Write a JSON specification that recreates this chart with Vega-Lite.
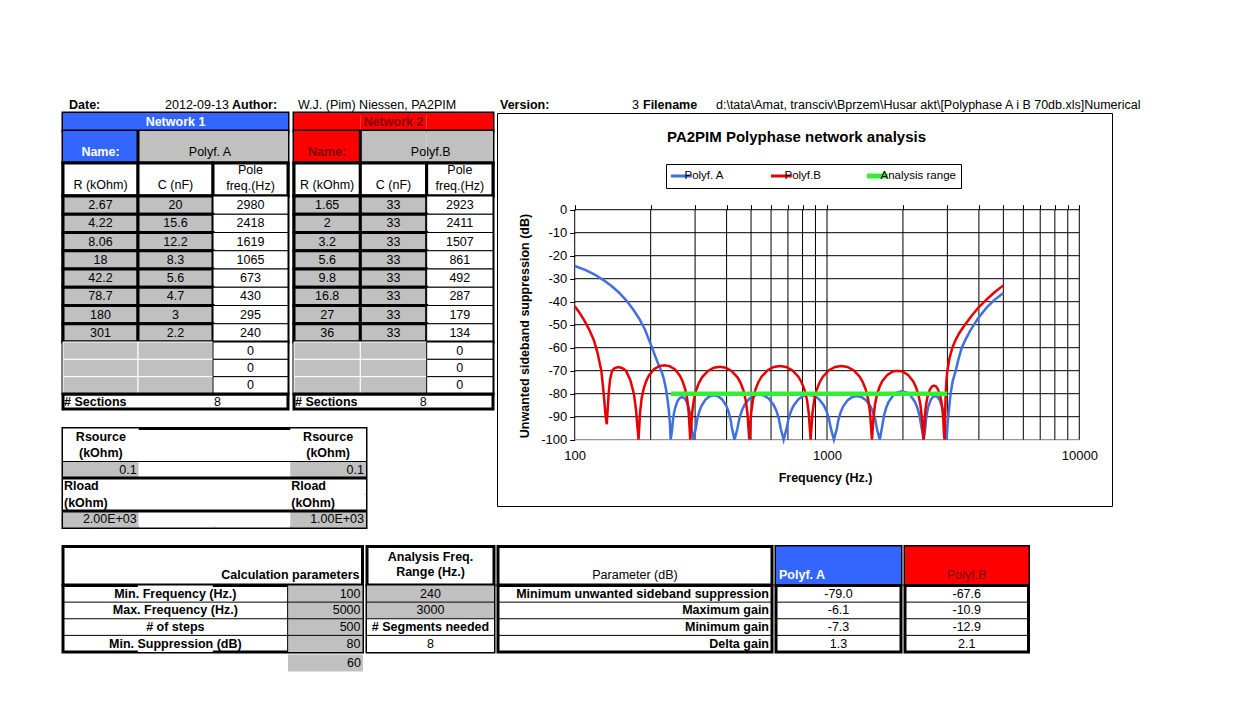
{
"$schema":"https://vega.github.io/schema/vega-lite/v6.json",
"background":"white",
"padding":{"left":60,"top":96,"right":10,"bottom":10},
"config":{"font":"Liberation Sans","view":{"stroke":null},"text":{"fontSize":12.5,"color":"#000000"},"concat":{"spacing":0}},
"datasets":{
"head":[
{"c":"A","t":"Date:"},{"c":"B","t":"2012-09-13"},{"c":"C","t":"Author:"},{"c":"D","t":"W.J. (Pim) Niessen, PA2PIM"},
{"c":"G","t":"Version:"},{"c":"H","t":"3"},{"c":"I","t":"Filename"},
{"c":"J","t":"d:\\tata\\Amat, transciv\\Bprzem\\Husar akt\\[Polyphase A i B 70db.xls]Numerical"}],
"t1":[
{"s":"net","n":1,"r":1,"c":"A","k":"n1"},{"s":"net","n":1,"r":1,"c":"B","k":"n1","t":"Network 1"},{"s":"net","n":1,"r":1,"c":"C","k":"n1"},
{"s":"net","n":2,"r":1,"c":"D","k":"n2"},{"s":"net","n":2,"r":1,"c":"E","k":"n2","t":"Network 2"},{"s":"net","n":2,"r":1,"c":"F","k":"n2"},
{"s":"name","n":1,"r":1,"c":"A","k":"n1","t":"Name:"},{"s":"name","n":1,"r":1,"c":"B","k":"gr"},{"s":"name","n":1,"r":1,"c":"C","k":"gr","t":"Polyf. A"},
{"s":"name","n":2,"r":1,"c":"D","k":"n2","t":"Name:"},{"s":"name","n":2,"r":1,"c":"E","k":"gr"},{"s":"name","n":2,"r":1,"c":"F","k":"gr","t":"Polyf.B"},
{"s":"hdr","n":1,"r":1,"c":"A","k":"hd","t":"R (kOhm)"},{"s":"hdr","n":1,"r":1,"c":"B","k":"hd","t":"C (nF)"},{"s":"hdr","n":1,"r":1,"c":"C","k":"hd","t":"Pole\nfreq.(Hz)"},
{"s":"hdr","n":2,"r":1,"c":"D","k":"hd","t":"R (kOhm)"},{"s":"hdr","n":2,"r":1,"c":"E","k":"hd","t":"C (nF)"},{"s":"hdr","n":2,"r":1,"c":"F","k":"hd","t":"Pole\nfreq.(Hz)"},
{"s":"dat","n":1,"r":1,"c":"A","k":"in","t":"2.67"},{"s":"dat","n":1,"r":1,"c":"B","k":"in","t":"20"},{"s":"dat","n":1,"r":1,"c":"C","k":"out","t":"2980"},
{"s":"dat","n":1,"r":2,"c":"A","k":"in","t":"4.22"},{"s":"dat","n":1,"r":2,"c":"B","k":"in","t":"15.6"},{"s":"dat","n":1,"r":2,"c":"C","k":"out","t":"2418"},
{"s":"dat","n":1,"r":3,"c":"A","k":"in","t":"8.06"},{"s":"dat","n":1,"r":3,"c":"B","k":"in","t":"12.2"},{"s":"dat","n":1,"r":3,"c":"C","k":"out","t":"1619"},
{"s":"dat","n":1,"r":4,"c":"A","k":"in","t":"18"},{"s":"dat","n":1,"r":4,"c":"B","k":"in","t":"8.3"},{"s":"dat","n":1,"r":4,"c":"C","k":"out","t":"1065"},
{"s":"dat","n":1,"r":5,"c":"A","k":"in","t":"42.2"},{"s":"dat","n":1,"r":5,"c":"B","k":"in","t":"5.6"},{"s":"dat","n":1,"r":5,"c":"C","k":"out","t":"673"},
{"s":"dat","n":1,"r":6,"c":"A","k":"in","t":"78.7"},{"s":"dat","n":1,"r":6,"c":"B","k":"in","t":"4.7"},{"s":"dat","n":1,"r":6,"c":"C","k":"out","t":"430"},
{"s":"dat","n":1,"r":7,"c":"A","k":"in","t":"180"},{"s":"dat","n":1,"r":7,"c":"B","k":"in","t":"3"},{"s":"dat","n":1,"r":7,"c":"C","k":"out","t":"295"},
{"s":"dat","n":1,"r":8,"c":"A","k":"in","t":"301"},{"s":"dat","n":1,"r":8,"c":"B","k":"in","t":"2.2"},{"s":"dat","n":1,"r":8,"c":"C","k":"out","t":"240"},
{"s":"dat","n":2,"r":1,"c":"D","k":"in","t":"1.65"},{"s":"dat","n":2,"r":1,"c":"E","k":"in","t":"33"},{"s":"dat","n":2,"r":1,"c":"F","k":"out","t":"2923"},
{"s":"dat","n":2,"r":2,"c":"D","k":"in","t":"2"},{"s":"dat","n":2,"r":2,"c":"E","k":"in","t":"33"},{"s":"dat","n":2,"r":2,"c":"F","k":"out","t":"2411"},
{"s":"dat","n":2,"r":3,"c":"D","k":"in","t":"3.2"},{"s":"dat","n":2,"r":3,"c":"E","k":"in","t":"33"},{"s":"dat","n":2,"r":3,"c":"F","k":"out","t":"1507"},
{"s":"dat","n":2,"r":4,"c":"D","k":"in","t":"5.6"},{"s":"dat","n":2,"r":4,"c":"E","k":"in","t":"33"},{"s":"dat","n":2,"r":4,"c":"F","k":"out","t":"861"},
{"s":"dat","n":2,"r":5,"c":"D","k":"in","t":"9.8"},{"s":"dat","n":2,"r":5,"c":"E","k":"in","t":"33"},{"s":"dat","n":2,"r":5,"c":"F","k":"out","t":"492"},
{"s":"dat","n":2,"r":6,"c":"D","k":"in","t":"16.8"},{"s":"dat","n":2,"r":6,"c":"E","k":"in","t":"33"},{"s":"dat","n":2,"r":6,"c":"F","k":"out","t":"287"},
{"s":"dat","n":2,"r":7,"c":"D","k":"in","t":"27"},{"s":"dat","n":2,"r":7,"c":"E","k":"in","t":"33"},{"s":"dat","n":2,"r":7,"c":"F","k":"out","t":"179"},
{"s":"dat","n":2,"r":8,"c":"D","k":"in","t":"36"},{"s":"dat","n":2,"r":8,"c":"E","k":"in","t":"33"},{"s":"dat","n":2,"r":8,"c":"F","k":"out","t":"134"},
{"s":"emp","n":1,"r":1,"c":"A","k":"bl"},{"s":"emp","n":1,"r":1,"c":"B","k":"bl"},{"s":"emp","n":1,"r":1,"c":"C","k":"out","t":"0"},
{"s":"emp","n":1,"r":2,"c":"A","k":"bl"},{"s":"emp","n":1,"r":2,"c":"B","k":"bl"},{"s":"emp","n":1,"r":2,"c":"C","k":"out","t":"0"},
{"s":"emp","n":1,"r":3,"c":"A","k":"bl"},{"s":"emp","n":1,"r":3,"c":"B","k":"bl"},{"s":"emp","n":1,"r":3,"c":"C","k":"out","t":"0"},
{"s":"emp","n":2,"r":1,"c":"D","k":"bl"},{"s":"emp","n":2,"r":1,"c":"E","k":"bl"},{"s":"emp","n":2,"r":1,"c":"F","k":"out","t":"0"},
{"s":"emp","n":2,"r":2,"c":"D","k":"bl"},{"s":"emp","n":2,"r":2,"c":"E","k":"bl"},{"s":"emp","n":2,"r":2,"c":"F","k":"out","t":"0"},
{"s":"emp","n":2,"r":3,"c":"D","k":"bl"},{"s":"emp","n":2,"r":3,"c":"E","k":"bl"},{"s":"emp","n":2,"r":3,"c":"F","k":"out","t":"0"},
{"s":"sec","n":1,"r":1,"c":"A","k":"wh","t":"# Sections"},{"s":"sec","n":1,"r":1,"c":"B","k":"wh","t":"8"},{"s":"sec","n":1,"r":1,"c":"C","k":"wh"},
{"s":"sec","n":2,"r":1,"c":"D","k":"wh","t":"# Sections"},{"s":"sec","n":2,"r":1,"c":"E","k":"wh","t":"8"},{"s":"sec","n":2,"r":1,"c":"F","k":"wh"}],
"rs":[
{"r":1,"c":"A","k":"wh","t":"Rsource"},{"r":1,"c":"D","k":"wh","t":"Rsource"},
{"r":2,"c":"A","k":"wh","t":"(kOhm)"},{"r":2,"c":"D","k":"wh","t":"(kOhm)"},
{"r":3,"c":"A","k":"gr","t":"0.1"},{"r":3,"c":"B","k":"wh"},{"r":3,"c":"C","k":"wh"},{"r":3,"c":"D","k":"gr","t":"0.1"},
{"r":4,"c":"A","k":"wh","t":"Rload"},{"r":4,"c":"D","k":"wh","t":"Rload"},
{"r":5,"c":"A","k":"wh","t":"(kOhm)"},{"r":5,"c":"D","k":"wh","t":"(kOhm)"},
{"r":6,"c":"A","k":"gr","t":"2.00E+03"},{"r":6,"c":"B","k":"wh"},{"r":6,"c":"C","k":"wh"},{"r":6,"c":"D","k":"gr","t":"1.00E+03"}],
"bt":[
{"s":"h","g":"LV","r":1,"c":"V","t":"Calculation parameters"},
{"s":"h","g":"An","r":1,"c":"X","t":"Analysis Freq.\nRange (Hz.)"},
{"s":"h","g":"P","r":1,"c":"X","t":"Parameter (dB)"},
{"s":"h","g":"PA","r":1,"c":"X","k":"n1","t":"Polyf. A"},
{"s":"h","g":"PB","r":1,"c":"X","k":"n2","t":"Polyf.B"},
{"s":"b","g":"LV","r":1,"c":"L2","k":"wh","t":"Min. Frequency (Hz.)"},{"s":"b","g":"LV","r":1,"c":"V","k":"gr","t":"100"},
{"s":"b","g":"LV","r":2,"c":"L2","k":"wh","t":"Max. Frequency (Hz.)"},{"s":"b","g":"LV","r":2,"c":"V","k":"gr","t":"5000"},
{"s":"b","g":"LV","r":3,"c":"L2","k":"wh","t":"# of steps"},{"s":"b","g":"LV","r":3,"c":"V","k":"gr","t":"500"},
{"s":"b","g":"LV","r":4,"c":"L2","k":"wh","t":"Min. Suppression (dB)"},{"s":"b","g":"LV","r":4,"c":"V","k":"gr","t":"80"},
{"s":"b","g":"An","r":1,"c":"X","k":"gr","t":"240"},{"s":"b","g":"An","r":2,"c":"X","k":"gr","t":"3000"},
{"s":"b","g":"An","r":3,"c":"X","k":"wh","t":"# Segments needed"},{"s":"b","g":"An","r":4,"c":"X","k":"wh","t":"8"},
{"s":"b","g":"P","r":1,"c":"X","k":"wh","t":"Minimum unwanted sideband suppression"},{"s":"b","g":"P","r":2,"c":"X","k":"wh","t":"Maximum gain"},
{"s":"b","g":"P","r":3,"c":"X","k":"wh","t":"Minimum gain"},{"s":"b","g":"P","r":4,"c":"X","k":"wh","t":"Delta gain"},
{"s":"b","g":"PA","r":1,"c":"X","k":"wh","t":"-79.0"},{"s":"b","g":"PA","r":2,"c":"X","k":"wh","t":"-6.1"},
{"s":"b","g":"PA","r":3,"c":"X","k":"wh","t":"-7.3"},{"s":"b","g":"PA","r":4,"c":"X","k":"wh","t":"1.3"},
{"s":"b","g":"PB","r":1,"c":"X","k":"wh","t":"-67.6"},{"s":"b","g":"PB","r":2,"c":"X","k":"wh","t":"-10.9"},
{"s":"b","g":"PB","r":3,"c":"X","k":"wh","t":"-12.9"},{"s":"b","g":"PB","r":4,"c":"X","k":"wh","t":"2.1"},
{"s":"x","g":"LV","r":1,"c":"V","k":"gr","t":"60"}],
"gridx":[{"f":100},{"f":200},{"f":300},{"f":400},{"f":500},{"f":600},{"f":700},{"f":800},{"f":900},{"f":1000},{"f":2000},{"f":3000},{"f":4000},{"f":5000},{"f":6000},{"f":7000},{"f":8000},{"f":9000},{"f":10000}],
"gridy":[{"v":-100},{"v":-90},{"v":-80},{"v":-70},{"v":-60},{"v":-50},{"v":-40},{"v":-30},{"v":-20},{"v":-10},{"v":0}],
"curves":[
{"series":"Polyf. A","freq":100,"db":-24.5},{"series":"Polyf. A","freq":110,"db":-26.2},{"series":"Polyf. A","freq":120,"db":-28.2},{"series":"Polyf. A","freq":130,"db":-30.6},{"series":"Polyf. A","freq":140,"db":-33.2},{"series":"Polyf. A","freq":150,"db":-36.1},{"series":"Polyf. A","freq":160,"db":-39.4},{"series":"Polyf. A","freq":170,"db":-43.2},{"series":"Polyf. A","freq":180,"db":-47.3},{"series":"Polyf. A","freq":190,"db":-52.2},{"series":"Polyf. A","freq":197,"db":-56.6},{"series":"Polyf. A","freq":205,"db":-61.5},{"series":"Polyf. A","freq":212,"db":-65.8},{"series":"Polyf. A","freq":218,"db":-69},{"series":"Polyf. A","freq":222,"db":-71},{"series":"Polyf. A","freq":226,"db":-74},{"series":"Polyf. A","freq":230,"db":-78},{"series":"Polyf. A","freq":233,"db":-82},{"series":"Polyf. A","freq":236,"db":-87},{"series":"Polyf. A","freq":238.5,"db":-93},{"series":"Polyf. A","freq":240,"db":-100},
{"series":"Polyf. A","freq":243,"db":-96},{"series":"Polyf. A","freq":245,"db":-91.7},{"series":"Polyf. A","freq":247.5,"db":-88.4},{"series":"Polyf. A","freq":250.1,"db":-86.1},{"series":"Polyf. A","freq":255.3,"db":-83.3},{"series":"Polyf. A","freq":260.7,"db":-81.9},{"series":"Polyf. A","freq":266.1,"db":-81.5},{"series":"Polyf. A","freq":271.6,"db":-81.9},{"series":"Polyf. A","freq":277.3,"db":-83.3},{"series":"Polyf. A","freq":283.1,"db":-86.1},{"series":"Polyf. A","freq":286,"db":-88.4},{"series":"Polyf. A","freq":289,"db":-91.7},{"series":"Polyf. A","freq":291.4,"db":-96},{"series":"Polyf. A","freq":295,"db":-100},
{"series":"Polyf. A","freq":301.7,"db":-95.3},{"series":"Polyf. A","freq":306.3,"db":-90.9},{"series":"Polyf. A","freq":312.2,"db":-87.6},{"series":"Polyf. A","freq":318.1,"db":-85.3},{"series":"Polyf. A","freq":330.3,"db":-82.5},{"series":"Polyf. A","freq":343,"db":-81.1},{"series":"Polyf. A","freq":356.2,"db":-80.7},{"series":"Polyf. A","freq":369.9,"db":-81.1},{"series":"Polyf. A","freq":384.1,"db":-82.5},{"series":"Polyf. A","freq":398.9,"db":-85.3},{"series":"Polyf. A","freq":406.4,"db":-87.6},{"series":"Polyf. A","freq":414.2,"db":-90.9},{"series":"Polyf. A","freq":420.5,"db":-95.3},{"series":"Polyf. A","freq":430,"db":-100},
{"series":"Polyf. A","freq":441.7,"db":-95},{"series":"Polyf. A","freq":449.7,"db":-90.6},{"series":"Polyf. A","freq":459.9,"db":-87.3},{"series":"Polyf. A","freq":470.3,"db":-85},{"series":"Polyf. A","freq":491.9,"db":-82.2},{"series":"Polyf. A","freq":514.4,"db":-80.8},{"series":"Polyf. A","freq":537.9,"db":-80.4},{"series":"Polyf. A","freq":562.6,"db":-80.8},{"series":"Polyf. A","freq":588.4,"db":-82.2},{"series":"Polyf. A","freq":615.3,"db":-85},{"series":"Polyf. A","freq":629.3,"db":-87.3},{"series":"Polyf. A","freq":643.5,"db":-90.6},{"series":"Polyf. A","freq":655.2,"db":-95},{"series":"Polyf. A","freq":673,"db":-100},
{"series":"Polyf. A","freq":691.8,"db":-95.1},{"series":"Polyf. A","freq":704.6,"db":-90.7},{"series":"Polyf. A","freq":721,"db":-87.4},{"series":"Polyf. A","freq":737.7,"db":-85.1},{"series":"Polyf. A","freq":772.3,"db":-82.3},{"series":"Polyf. A","freq":808.6,"db":-80.9},{"series":"Polyf. A","freq":846.6,"db":-80.5},{"series":"Polyf. A","freq":886.4,"db":-80.9},{"series":"Polyf. A","freq":928,"db":-82.3},{"series":"Polyf. A","freq":971.6,"db":-85.1},{"series":"Polyf. A","freq":994.1,"db":-87.4},{"series":"Polyf. A","freq":1017.2,"db":-90.7},{"series":"Polyf. A","freq":1036.1,"db":-95.1},{"series":"Polyf. A","freq":1065,"db":-100},
{"series":"Polyf. A","freq":1092.1,"db":-95.6},{"series":"Polyf. A","freq":1110.5,"db":-91.2},{"series":"Polyf. A","freq":1134.1,"db":-87.9},{"series":"Polyf. A","freq":1158.1,"db":-85.6},{"series":"Polyf. A","freq":1207.6,"db":-82.8},{"series":"Polyf. A","freq":1259.2,"db":-81.4},{"series":"Polyf. A","freq":1313.1,"db":-81},{"series":"Polyf. A","freq":1369.3,"db":-81.4},{"series":"Polyf. A","freq":1427.8,"db":-82.8},{"series":"Polyf. A","freq":1488.9,"db":-85.6},{"series":"Polyf. A","freq":1520.4,"db":-87.9},{"series":"Polyf. A","freq":1552.6,"db":-91.2},{"series":"Polyf. A","freq":1578.8,"db":-95.6},{"series":"Polyf. A","freq":1619,"db":-100},
{"series":"Polyf. A","freq":1658.4,"db":-93.6},{"series":"Polyf. A","freq":1685.3,"db":-89.2},{"series":"Polyf. A","freq":1719.4,"db":-85.9},{"series":"Polyf. A","freq":1754.2,"db":-83.6},{"series":"Polyf. A","freq":1826,"db":-80.8},{"series":"Polyf. A","freq":1900.8,"db":-79.4},{"series":"Polyf. A","freq":1978.6,"db":-79},{"series":"Polyf. A","freq":2059.6,"db":-79.4},{"series":"Polyf. A","freq":2143.8,"db":-80.8},{"series":"Polyf. A","freq":2231.6,"db":-83.6},{"series":"Polyf. A","freq":2276.8,"db":-85.9},{"series":"Polyf. A","freq":2322.9,"db":-89.2},{"series":"Polyf. A","freq":2360.5,"db":-93.6},{"series":"Polyf. A","freq":2418,"db":-100},
{"series":"Polyf. A","freq":2448.5,"db":-95.6},{"series":"Polyf. A","freq":2469.1,"db":-91.2},{"series":"Polyf. A","freq":2495,"db":-87.9},{"series":"Polyf. A","freq":2521.2,"db":-85.6},{"series":"Polyf. A","freq":2574.4,"db":-82.8},{"series":"Polyf. A","freq":2628.8,"db":-81.4},{"series":"Polyf. A","freq":2684.3,"db":-81},{"series":"Polyf. A","freq":2741,"db":-81.4},{"series":"Polyf. A","freq":2798.9,"db":-82.8},{"series":"Polyf. A","freq":2858,"db":-85.6},{"series":"Polyf. A","freq":2888,"db":-87.9},{"series":"Polyf. A","freq":2918.4,"db":-91.2},{"series":"Polyf. A","freq":2942.9,"db":-95.6},{"series":"Polyf. A","freq":2980,"db":-100},
{"series":"Polyf. A","freq":3010,"db":-92},{"series":"Polyf. A","freq":3050,"db":-86},{"series":"Polyf. A","freq":3090,"db":-80},{"series":"Polyf. A","freq":3150,"db":-74.5},{"series":"Polyf. A","freq":3236,"db":-70},{"series":"Polyf. A","freq":3320,"db":-65},{"series":"Polyf. A","freq":3420,"db":-60},{"series":"Polyf. A","freq":3535,"db":-56.6},{"series":"Polyf. A","freq":3700,"db":-52.5},{"series":"Polyf. A","freq":4000,"db":-46.7},{"series":"Polyf. A","freq":4300,"db":-42.5},{"series":"Polyf. A","freq":4600,"db":-39.3},{"series":"Polyf. A","freq":5000,"db":-36.2},
{"series":"Polyf.B","freq":100,"db":-42},{"series":"Polyf.B","freq":104,"db":-44.5},{"series":"Polyf.B","freq":109,"db":-48},{"series":"Polyf.B","freq":114,"db":-52},{"series":"Polyf.B","freq":119,"db":-56.6},{"series":"Polyf.B","freq":123,"db":-62},{"series":"Polyf.B","freq":127.5,"db":-70},{"series":"Polyf.B","freq":130.3,"db":-80},{"series":"Polyf.B","freq":132.6,"db":-90},{"series":"Polyf.B","freq":134,"db":-93.3},
{"series":"Polyf.B","freq":136.3,"db":-80},{"series":"Polyf.B","freq":138,"db":-74},{"series":"Polyf.B","freq":140.6,"db":-70},{"series":"Polyf.B","freq":144,"db":-68.9},{"series":"Polyf.B","freq":149,"db":-68.4},{"series":"Polyf.B","freq":154,"db":-68.8},{"series":"Polyf.B","freq":159.6,"db":-70},{"series":"Polyf.B","freq":166,"db":-74},{"series":"Polyf.B","freq":171.6,"db":-80},{"series":"Polyf.B","freq":175,"db":-87},{"series":"Polyf.B","freq":177.5,"db":-95},{"series":"Polyf.B","freq":179,"db":-100},
{"series":"Polyf.B","freq":181.6,"db":-88.1},{"series":"Polyf.B","freq":184.1,"db":-82.2},{"series":"Polyf.B","freq":187.7,"db":-77.8},{"series":"Polyf.B","freq":192.1,"db":-74.5},{"series":"Polyf.B","freq":196.7,"db":-72.2},{"series":"Polyf.B","freq":206.2,"db":-69.4},{"series":"Polyf.B","freq":216.2,"db":-68},{"series":"Polyf.B","freq":226.7,"db":-67.6},{"series":"Polyf.B","freq":237.6,"db":-68},{"series":"Polyf.B","freq":249.1,"db":-69.4},{"series":"Polyf.B","freq":261.1,"db":-72.2},{"series":"Polyf.B","freq":267.4,"db":-74.5},{"series":"Polyf.B","freq":273.8,"db":-77.8},{"series":"Polyf.B","freq":279,"db":-82.2},{"series":"Polyf.B","freq":283,"db":-88.1},{"series":"Polyf.B","freq":287,"db":-100},
{"series":"Polyf.B","freq":291.7,"db":-88.8},{"series":"Polyf.B","freq":296.4,"db":-82.9},{"series":"Polyf.B","freq":302.9,"db":-78.5},{"series":"Polyf.B","freq":311.2,"db":-75.2},{"series":"Polyf.B","freq":319.7,"db":-72.9},{"series":"Polyf.B","freq":337.4,"db":-70.1},{"series":"Polyf.B","freq":356.1,"db":-68.7},{"series":"Polyf.B","freq":375.8,"db":-68.3},{"series":"Polyf.B","freq":396.6,"db":-68.7},{"series":"Polyf.B","freq":418.5,"db":-70.1},{"series":"Polyf.B","freq":441.7,"db":-72.9},{"series":"Polyf.B","freq":453.8,"db":-75.2},{"series":"Polyf.B","freq":466.2,"db":-78.5},{"series":"Polyf.B","freq":476.4,"db":-82.9},{"series":"Polyf.B","freq":484.1,"db":-88.8},{"series":"Polyf.B","freq":492,"db":-100},
{"series":"Polyf.B","freq":500.3,"db":-88.5},{"series":"Polyf.B","freq":508.8,"db":-82.6},{"series":"Polyf.B","freq":520.3,"db":-78.2},{"series":"Polyf.B","freq":535.1,"db":-74.9},{"series":"Polyf.B","freq":550.3,"db":-72.6},{"series":"Polyf.B","freq":581.9,"db":-69.8},{"series":"Polyf.B","freq":615.4,"db":-68.4},{"series":"Polyf.B","freq":650.9,"db":-68},{"series":"Polyf.B","freq":688.3,"db":-68.4},{"series":"Polyf.B","freq":727.9,"db":-69.8},{"series":"Polyf.B","freq":769.8,"db":-72.6},{"series":"Polyf.B","freq":791.7,"db":-74.9},{"series":"Polyf.B","freq":814.1,"db":-78.2},{"series":"Polyf.B","freq":832.6,"db":-82.6},{"series":"Polyf.B","freq":846.7,"db":-88.5},{"series":"Polyf.B","freq":861,"db":-100},
{"series":"Polyf.B","freq":875.6,"db":-88.5},{"series":"Polyf.B","freq":890.4,"db":-82.6},{"series":"Polyf.B","freq":910.6,"db":-78.2},{"series":"Polyf.B","freq":936.4,"db":-74.9},{"series":"Polyf.B","freq":963,"db":-72.6},{"series":"Polyf.B","freq":1018.4,"db":-69.8},{"series":"Polyf.B","freq":1077,"db":-68.4},{"series":"Polyf.B","freq":1139,"db":-68},{"series":"Polyf.B","freq":1204.5,"db":-68.4},{"series":"Polyf.B","freq":1273.9,"db":-69.8},{"series":"Polyf.B","freq":1347.2,"db":-72.6},{"series":"Polyf.B","freq":1385.4,"db":-74.9},{"series":"Polyf.B","freq":1424.7,"db":-78.2},{"series":"Polyf.B","freq":1457,"db":-82.6},{"series":"Polyf.B","freq":1481.7,"db":-88.5},{"series":"Polyf.B","freq":1507,"db":-100},
{"series":"Polyf.B","freq":1528.4,"db":-90.5},{"series":"Polyf.B","freq":1550.1,"db":-84.6},{"series":"Polyf.B","freq":1579.5,"db":-80.2},{"series":"Polyf.B","freq":1617.1,"db":-76.9},{"series":"Polyf.B","freq":1655.5,"db":-74.6},{"series":"Polyf.B","freq":1735.2,"db":-71.8},{"series":"Polyf.B","freq":1818.7,"db":-70.4},{"series":"Polyf.B","freq":1906.2,"db":-70},{"series":"Polyf.B","freq":1997.9,"db":-70.4},{"series":"Polyf.B","freq":2094,"db":-71.8},{"series":"Polyf.B","freq":2194.7,"db":-74.6},{"series":"Polyf.B","freq":2246.9,"db":-76.9},{"series":"Polyf.B","freq":2300.3,"db":-80.2},{"series":"Polyf.B","freq":2344,"db":-84.6},{"series":"Polyf.B","freq":2377.2,"db":-90.5},{"series":"Polyf.B","freq":2411,"db":-100},
{"series":"Polyf.B","freq":2425,"db":-97},{"series":"Polyf.B","freq":2439,"db":-91.1},{"series":"Polyf.B","freq":2457.9,"db":-86.7},{"series":"Polyf.B","freq":2481.7,"db":-83.4},{"series":"Polyf.B","freq":2505.7,"db":-81.1},{"series":"Polyf.B","freq":2554.4,"db":-78.3},{"series":"Polyf.B","freq":2604,"db":-76.9},{"series":"Polyf.B","freq":2654.7,"db":-76.5},{"series":"Polyf.B","freq":2706.3,"db":-76.9},{"series":"Polyf.B","freq":2758.9,"db":-78.3},{"series":"Polyf.B","freq":2812.6,"db":-81.1},{"series":"Polyf.B","freq":2839.8,"db":-83.4},{"series":"Polyf.B","freq":2867.2,"db":-86.7},{"series":"Polyf.B","freq":2889.4,"db":-91.1},{"series":"Polyf.B","freq":2906.1,"db":-97},{"series":"Polyf.B","freq":2923,"db":-100},
{"series":"Polyf.B","freq":2940,"db":-88},{"series":"Polyf.B","freq":2955,"db":-80},{"series":"Polyf.B","freq":2975,"db":-74},{"series":"Polyf.B","freq":3000,"db":-70},{"series":"Polyf.B","freq":3060,"db":-64.5},{"series":"Polyf.B","freq":3140,"db":-60},{"series":"Polyf.B","freq":3236,"db":-56.6},{"series":"Polyf.B","freq":3350,"db":-53.5},{"series":"Polyf.B","freq":3500,"db":-50.5},{"series":"Polyf.B","freq":3750,"db":-46},{"series":"Polyf.B","freq":4000,"db":-42.3},{"series":"Polyf.B","freq":4300,"db":-39},{"series":"Polyf.B","freq":4600,"db":-36},{"series":"Polyf.B","freq":5000,"db":-32.9},
{"series":"Analysis range","freq":240,"db":-80},{"series":"Analysis range","freq":3000,"db":-80}]
},
"spacing":-2.5,
"vconcat":[
{"bounds":"flush","spacing":0,"hconcat":[
 {"width":80,"height":17,"data":{"name":"head"},"transform":[{"filter":"datum.c=='A'"}],"mark":{"type":"text","align":"left","dx":6,"fontWeight":"bold"},"encoding":{"x":{"field":"c","type":"nominal","axis":null,"bandPosition":0,"scale":{"type":"band","paddingInner":0,"paddingOuter":0}},"text":{"field":"t"}}},
 {"width":87,"height":17,"data":{"name":"head"},"transform":[{"filter":"datum.c=='B'"}],"mark":{"type":"text","align":"right","dx":-1},"encoding":{"x":{"field":"c","type":"nominal","axis":null,"bandPosition":1,"scale":{"type":"band","paddingInner":0,"paddingOuter":0}},"text":{"field":"t"}}},
 {"width":65,"height":17,"data":{"name":"head"},"transform":[{"filter":"datum.c=='C'"}],"mark":{"type":"text","align":"left","dx":2,"fontWeight":"bold"},"encoding":{"x":{"field":"c","type":"nominal","axis":null,"bandPosition":0,"scale":{"type":"band","paddingInner":0,"paddingOuter":0}},"text":{"field":"t"}}},
 {"width":201,"height":17,"data":{"name":"head"},"transform":[{"filter":"datum.c=='D'"}],"mark":{"type":"text","align":"left","dx":3},"encoding":{"x":{"field":"c","type":"nominal","axis":null,"bandPosition":0,"scale":{"type":"band","paddingInner":0,"paddingOuter":0}},"text":{"field":"t"}}},
 {"width":144,"height":17,"data":{"name":"head"},"layer":[
   {"transform":[{"filter":"datum.c=='G'"}],"mark":{"type":"text","align":"left","dx":4,"fontWeight":"bold"},"encoding":{"x":{"field":"c","type":"nominal","axis":null,"bandPosition":0,"scale":{"type":"band","domain":["G","H"],"paddingInner":0,"paddingOuter":0}},"text":{"field":"t"}}},
   {"transform":[{"filter":"datum.c=='H'"}],"mark":{"type":"text","align":"right","dx":-1},"encoding":{"x":{"field":"c","type":"nominal","axis":null,"bandPosition":1,"scale":{"type":"band","domain":["G","H"],"paddingInner":0,"paddingOuter":0}},"text":{"field":"t"}}}]},
 {"width":74,"height":17,"data":{"name":"head"},"transform":[{"filter":"datum.c=='I'"}],"mark":{"type":"text","align":"left","dx":3,"fontWeight":"bold"},"encoding":{"x":{"field":"c","type":"nominal","axis":null,"bandPosition":0,"scale":{"type":"band","paddingInner":0,"paddingOuter":0}},"text":{"field":"t"}}},
 {"width":430,"height":17,"data":{"name":"head"},"transform":[{"filter":"datum.c=='J'"}],"mark":{"type":"text","align":"left","dx":2},"encoding":{"x":{"field":"c","type":"nominal","axis":null,"bandPosition":0,"scale":{"type":"band","paddingInner":0,"paddingOuter":0}},"text":{"field":"t"}}}
]},
{"spacing":15.5,"vconcat":[
 {"spacing":0,"resolve":{"scale":{"color":"independent"},"legend":{"color":"independent"}},"hconcat":[
  {"spacing":15.5,"vconcat":[
   {"spacing":0,"hconcat":[
    {"bounds":"flush","spacing":0,"vconcat":[
     {"width":225,"height":18,"view":{"stroke":"black","strokeWidth":3},"data":{"name":"t1"},"transform":[{"filter":"datum.n==1 && datum.s=='net'"}],"layer":[
       {"mark":"rect","encoding":{"x":{"field":"c","type":"nominal","axis":null,"scale":{"type":"band","domain":["A","B","C"],"paddingInner":0,"paddingOuter":0}},"y":{"field":"r","type":"ordinal","axis":null,"scale":{"type":"band","paddingInner":0,"paddingOuter":0}},"fill":{"field":"k","type":"nominal","legend":null,"scale":{"domain":["n1","n2","gr","in","bl","out","hd","wh"],"range":["#3366FF","#FF0000","#C0C0C0","#C0C0C0","#C0C0C0","#FFFFFF","#FFFFFF","#FFFFFF"]}}}},
       {"transform":[{"filter":"isValid(datum.t)"}],"mark":{"type":"text","fontWeight":"bold"},"encoding":{"x":{"field":"c","type":"nominal","axis":null,"scale":{"type":"band","domain":["A","B","C"],"paddingInner":0,"paddingOuter":0}},"y":{"field":"r","type":"ordinal","axis":null,"scale":{"type":"band","paddingInner":0,"paddingOuter":0}},"text":{"field":"t"},"color":{"condition":[{"test":"datum.k=='n1'","value":"#FFFFFF"},{"test":"datum.k=='n2'","value":"#800000"}],"value":"#000000"}}}]},
     {"width":225,"height":32,"view":{"stroke":"black","strokeWidth":3},"data":{"name":"t1"},"transform":[{"filter":"datum.n==1 && datum.s=='name'"}],"layer":[
       {"mark":"rect","encoding":{"x":{"field":"c","type":"nominal","axis":null,"scale":{"type":"band","domain":["A","B","C"],"paddingInner":0,"paddingOuter":0}},"y":{"field":"r","type":"ordinal","axis":null,"scale":{"type":"band","paddingInner":0,"paddingOuter":0}},"fill":{"field":"k","type":"nominal","legend":null,"scale":{"domain":["n1","n2","gr","in","bl","out","hd","wh"],"range":["#3366FF","#FF0000","#C0C0C0","#C0C0C0","#C0C0C0","#FFFFFF","#FFFFFF","#FFFFFF"]}}}},
       {"transform":[{"filter":"datum.c=='B'"}],"mark":{"type":"rule","color":"black","strokeWidth":3},"encoding":{"x":{"field":"c","type":"nominal","axis":null,"bandPosition":0,"scale":{"type":"band","domain":["A","B","C"],"paddingInner":0,"paddingOuter":0}}}},
       {"transform":[{"filter":"datum.c=='A'"}],"mark":{"type":"text","fontWeight":"bold","baseline":"bottom","dy":-4},"encoding":{"x":{"field":"c","type":"nominal","axis":null,"scale":{"type":"band","domain":["A","B","C"],"paddingInner":0,"paddingOuter":0}},"y":{"field":"r","type":"ordinal","axis":null,"bandPosition":1,"scale":{"type":"band","paddingInner":0,"paddingOuter":0}},"text":{"field":"t"},"color":{"condition":[{"test":"datum.k=='n1'","value":"#FFFFFF"},{"test":"datum.k=='n2'","value":"#800000"}],"value":"#000000"}}},
       {"transform":[{"filter":"datum.c=='C'"}],"mark":{"type":"text","baseline":"bottom","dy":-4,"dx":-3},"encoding":{"x":{"field":"c","type":"nominal","axis":null,"bandPosition":0,"scale":{"type":"band","domain":["A","B","C"],"paddingInner":0,"paddingOuter":0}},"y":{"field":"r","type":"ordinal","axis":null,"bandPosition":1,"scale":{"type":"band","paddingInner":0,"paddingOuter":0}},"text":{"field":"t"}}}]},
     {"width":225,"height":33,"view":{"stroke":"black","strokeWidth":3},"data":{"name":"t1"},"transform":[{"filter":"datum.n==1 && datum.s=='hdr'"}],"layer":[
       {"mark":"rect","encoding":{"x":{"field":"c","type":"nominal","axis":null,"scale":{"type":"band","domain":["A","B","C"],"paddingInner":0,"paddingOuter":0}},"y":{"field":"r","type":"ordinal","axis":null,"scale":{"type":"band","paddingInner":0,"paddingOuter":0}},"fill":{"value":"#FFFFFF"},"stroke":{"value":"black"},"strokeWidth":{"value":3}}},
       {"transform":[{"filter":"datum.c!='C'"}],"mark":{"type":"text","baseline":"bottom","dy":-4},"encoding":{"x":{"field":"c","type":"nominal","axis":null,"scale":{"type":"band","domain":["A","B","C"],"paddingInner":0,"paddingOuter":0}},"y":{"field":"r","type":"ordinal","axis":null,"bandPosition":1,"scale":{"type":"band","paddingInner":0,"paddingOuter":0}},"text":{"field":"t"}}},
       {"transform":[{"filter":"datum.c=='C'"}],"mark":{"type":"text","baseline":"top","dy":1,"lineBreak":"\n","lineHeight":16},"encoding":{"x":{"field":"c","type":"nominal","axis":null,"scale":{"type":"band","domain":["A","B","C"],"paddingInner":0,"paddingOuter":0}},"y":{"field":"r","type":"ordinal","axis":null,"bandPosition":0,"scale":{"type":"band","paddingInner":0,"paddingOuter":0}},"text":{"field":"t"}}}]},
     {"width":225,"height":146,"view":{"stroke":"black","strokeWidth":3},"data":{"name":"t1"},"transform":[{"filter":"datum.n==1 && datum.s=='dat'"}],"layer":[
       {"mark":"rect","encoding":{"x":{"field":"c","type":"nominal","axis":null,"scale":{"type":"band","domain":["A","B","C"],"paddingInner":0,"paddingOuter":0}},"y":{"field":"r","type":"ordinal","axis":null,"scale":{"type":"band","paddingInner":0,"paddingOuter":0}},"fill":{"field":"k","type":"nominal","legend":null,"scale":{"domain":["n1","n2","gr","in","bl","out","hd","wh"],"range":["#3366FF","#FF0000","#C0C0C0","#C0C0C0","#C0C0C0","#FFFFFF","#FFFFFF","#FFFFFF"]}},"stroke":{"value":"black"},"strokeWidth":{"condition":{"test":"datum.k=='in'","value":3},"value":1}}},
       {"mark":{"type":"text"},"encoding":{"x":{"field":"c","type":"nominal","axis":null,"scale":{"type":"band","domain":["A","B","C"],"paddingInner":0,"paddingOuter":0}},"y":{"field":"r","type":"ordinal","axis":null,"scale":{"type":"band","paddingInner":0,"paddingOuter":0}},"text":{"field":"t"}}}]},
     {"width":225,"height":52,"view":{"stroke":"black","strokeWidth":3},"data":{"name":"t1"},"transform":[{"filter":"datum.n==1 && datum.s=='emp'"}],"layer":[
       {"mark":"rect","encoding":{"x":{"field":"c","type":"nominal","axis":null,"scale":{"type":"band","domain":["A","B","C"],"paddingInner":0,"paddingOuter":0}},"y":{"field":"r","type":"ordinal","axis":null,"scale":{"type":"band","paddingInner":0,"paddingOuter":0}},"fill":{"field":"k","type":"nominal","legend":null,"scale":{"domain":["n1","n2","gr","in","bl","out","hd","wh"],"range":["#3366FF","#FF0000","#C0C0C0","#C0C0C0","#C0C0C0","#FFFFFF","#FFFFFF","#FFFFFF"]}},"stroke":{"condition":{"test":"datum.k=='bl'","value":"#FFFFFF"},"value":"black"},"strokeWidth":{"value":1}}},
       {"transform":[{"filter":"isValid(datum.t)"}],"mark":{"type":"text"},"encoding":{"x":{"field":"c","type":"nominal","axis":null,"scale":{"type":"band","domain":["A","B","C"],"paddingInner":0,"paddingOuter":0}},"y":{"field":"r","type":"ordinal","axis":null,"scale":{"type":"band","paddingInner":0,"paddingOuter":0}},"text":{"field":"t"}}}]},
     {"width":225,"height":15,"view":{"stroke":"black","strokeWidth":3},"data":{"name":"t1"},"transform":[{"filter":"datum.n==1 && datum.s=='sec'"}],"layer":[
       {"transform":[{"filter":"datum.c=='A'"}],"mark":{"type":"text","fontWeight":"bold","align":"left","dx":1},"encoding":{"x":{"field":"c","type":"nominal","axis":null,"bandPosition":0,"scale":{"type":"band","domain":["A","B","C"],"paddingInner":0,"paddingOuter":0}},"y":{"field":"r","type":"ordinal","axis":null,"scale":{"type":"band","paddingInner":0,"paddingOuter":0}},"text":{"field":"t"}}},
       {"transform":[{"filter":"datum.c=='B'"}],"mark":{"type":"text","align":"right","dx":8},"encoding":{"x":{"field":"c","type":"nominal","axis":null,"bandPosition":1,"scale":{"type":"band","domain":["A","B","C"],"paddingInner":0,"paddingOuter":0}},"y":{"field":"r","type":"ordinal","axis":null,"scale":{"type":"band","paddingInner":0,"paddingOuter":0}},"text":{"field":"t"}}}]}
    ]},
    {"bounds":"flush","spacing":0,"vconcat":[
     {"width":199,"height":18,"view":{"stroke":"black","strokeWidth":3},"data":{"name":"t1"},"transform":[{"filter":"datum.n==2 && datum.s=='net'"}],"layer":[
       {"mark":"rect","encoding":{"x":{"field":"c","type":"nominal","axis":null,"scale":{"type":"band","domain":["D","E","F"],"paddingInner":0,"paddingOuter":0}},"y":{"field":"r","type":"ordinal","axis":null,"scale":{"type":"band","paddingInner":0,"paddingOuter":0}},"fill":{"field":"k","type":"nominal","legend":null,"scale":{"domain":["n1","n2","gr","in","bl","out","hd","wh"],"range":["#3366FF","#FF0000","#C0C0C0","#C0C0C0","#C0C0C0","#FFFFFF","#FFFFFF","#FFFFFF"]}}}},
       {"transform":[{"filter":"isValid(datum.t)"}],"mark":{"type":"text","fontWeight":"bold"},"encoding":{"x":{"field":"c","type":"nominal","axis":null,"scale":{"type":"band","domain":["D","E","F"],"paddingInner":0,"paddingOuter":0}},"y":{"field":"r","type":"ordinal","axis":null,"scale":{"type":"band","paddingInner":0,"paddingOuter":0}},"text":{"field":"t"},"color":{"condition":[{"test":"datum.k=='n1'","value":"#FFFFFF"},{"test":"datum.k=='n2'","value":"#800000"}],"value":"#000000"}}}]},
     {"width":199,"height":32,"view":{"stroke":"black","strokeWidth":3},"data":{"name":"t1"},"transform":[{"filter":"datum.n==2 && datum.s=='name'"}],"layer":[
       {"mark":"rect","encoding":{"x":{"field":"c","type":"nominal","axis":null,"scale":{"type":"band","domain":["D","E","F"],"paddingInner":0,"paddingOuter":0}},"y":{"field":"r","type":"ordinal","axis":null,"scale":{"type":"band","paddingInner":0,"paddingOuter":0}},"fill":{"field":"k","type":"nominal","legend":null,"scale":{"domain":["n1","n2","gr","in","bl","out","hd","wh"],"range":["#3366FF","#FF0000","#C0C0C0","#C0C0C0","#C0C0C0","#FFFFFF","#FFFFFF","#FFFFFF"]}}}},
       {"transform":[{"filter":"datum.c=='E'"}],"mark":{"type":"rule","color":"black","strokeWidth":3},"encoding":{"x":{"field":"c","type":"nominal","axis":null,"bandPosition":0,"scale":{"type":"band","domain":["D","E","F"],"paddingInner":0,"paddingOuter":0}}}},
       {"transform":[{"filter":"datum.c=='D'"}],"mark":{"type":"text","fontWeight":"bold","baseline":"bottom","dy":-4},"encoding":{"x":{"field":"c","type":"nominal","axis":null,"scale":{"type":"band","domain":["D","E","F"],"paddingInner":0,"paddingOuter":0}},"y":{"field":"r","type":"ordinal","axis":null,"bandPosition":1,"scale":{"type":"band","paddingInner":0,"paddingOuter":0}},"text":{"field":"t"},"color":{"condition":[{"test":"datum.k=='n1'","value":"#FFFFFF"},{"test":"datum.k=='n2'","value":"#800000"}],"value":"#000000"}}},
       {"transform":[{"filter":"datum.c=='F'"}],"mark":{"type":"text","baseline":"bottom","dy":-4,"dx":4},"encoding":{"x":{"field":"c","type":"nominal","axis":null,"bandPosition":0,"scale":{"type":"band","domain":["D","E","F"],"paddingInner":0,"paddingOuter":0}},"y":{"field":"r","type":"ordinal","axis":null,"bandPosition":1,"scale":{"type":"band","paddingInner":0,"paddingOuter":0}},"text":{"field":"t"}}}]},
     {"width":199,"height":33,"view":{"stroke":"black","strokeWidth":3},"data":{"name":"t1"},"transform":[{"filter":"datum.n==2 && datum.s=='hdr'"}],"layer":[
       {"mark":"rect","encoding":{"x":{"field":"c","type":"nominal","axis":null,"scale":{"type":"band","domain":["D","E","F"],"paddingInner":0,"paddingOuter":0}},"y":{"field":"r","type":"ordinal","axis":null,"scale":{"type":"band","paddingInner":0,"paddingOuter":0}},"fill":{"value":"#FFFFFF"},"stroke":{"value":"black"},"strokeWidth":{"value":3}}},
       {"transform":[{"filter":"datum.c!='F'"}],"mark":{"type":"text","baseline":"bottom","dy":-4},"encoding":{"x":{"field":"c","type":"nominal","axis":null,"scale":{"type":"band","domain":["D","E","F"],"paddingInner":0,"paddingOuter":0}},"y":{"field":"r","type":"ordinal","axis":null,"bandPosition":1,"scale":{"type":"band","paddingInner":0,"paddingOuter":0}},"text":{"field":"t"}}},
       {"transform":[{"filter":"datum.c=='F'"}],"mark":{"type":"text","baseline":"top","dy":1,"lineBreak":"\n","lineHeight":16},"encoding":{"x":{"field":"c","type":"nominal","axis":null,"scale":{"type":"band","domain":["D","E","F"],"paddingInner":0,"paddingOuter":0}},"y":{"field":"r","type":"ordinal","axis":null,"bandPosition":0,"scale":{"type":"band","paddingInner":0,"paddingOuter":0}},"text":{"field":"t"}}}]},
     {"width":199,"height":146,"view":{"stroke":"black","strokeWidth":3},"data":{"name":"t1"},"transform":[{"filter":"datum.n==2 && datum.s=='dat'"}],"layer":[
       {"mark":"rect","encoding":{"x":{"field":"c","type":"nominal","axis":null,"scale":{"type":"band","domain":["D","E","F"],"paddingInner":0,"paddingOuter":0}},"y":{"field":"r","type":"ordinal","axis":null,"scale":{"type":"band","paddingInner":0,"paddingOuter":0}},"fill":{"field":"k","type":"nominal","legend":null,"scale":{"domain":["n1","n2","gr","in","bl","out","hd","wh"],"range":["#3366FF","#FF0000","#C0C0C0","#C0C0C0","#C0C0C0","#FFFFFF","#FFFFFF","#FFFFFF"]}},"stroke":{"value":"black"},"strokeWidth":{"condition":{"test":"datum.k=='in'","value":3},"value":1}}},
       {"mark":{"type":"text"},"encoding":{"x":{"field":"c","type":"nominal","axis":null,"scale":{"type":"band","domain":["D","E","F"],"paddingInner":0,"paddingOuter":0}},"y":{"field":"r","type":"ordinal","axis":null,"scale":{"type":"band","paddingInner":0,"paddingOuter":0}},"text":{"field":"t"}}}]},
     {"width":199,"height":52,"view":{"stroke":"black","strokeWidth":3},"data":{"name":"t1"},"transform":[{"filter":"datum.n==2 && datum.s=='emp'"}],"layer":[
       {"mark":"rect","encoding":{"x":{"field":"c","type":"nominal","axis":null,"scale":{"type":"band","domain":["D","E","F"],"paddingInner":0,"paddingOuter":0}},"y":{"field":"r","type":"ordinal","axis":null,"scale":{"type":"band","paddingInner":0,"paddingOuter":0}},"fill":{"field":"k","type":"nominal","legend":null,"scale":{"domain":["n1","n2","gr","in","bl","out","hd","wh"],"range":["#3366FF","#FF0000","#C0C0C0","#C0C0C0","#C0C0C0","#FFFFFF","#FFFFFF","#FFFFFF"]}},"stroke":{"condition":{"test":"datum.k=='bl'","value":"#FFFFFF"},"value":"black"},"strokeWidth":{"value":1}}},
       {"transform":[{"filter":"isValid(datum.t)"}],"mark":{"type":"text"},"encoding":{"x":{"field":"c","type":"nominal","axis":null,"scale":{"type":"band","domain":["D","E","F"],"paddingInner":0,"paddingOuter":0}},"y":{"field":"r","type":"ordinal","axis":null,"scale":{"type":"band","paddingInner":0,"paddingOuter":0}},"text":{"field":"t"}}}]},
     {"width":199,"height":15,"view":{"stroke":"black","strokeWidth":3},"data":{"name":"t1"},"transform":[{"filter":"datum.n==2 && datum.s=='sec'"}],"layer":[
       {"transform":[{"filter":"datum.c=='D'"}],"mark":{"type":"text","fontWeight":"bold","align":"left","dx":1},"encoding":{"x":{"field":"c","type":"nominal","axis":null,"bandPosition":0,"scale":{"type":"band","domain":["D","E","F"],"paddingInner":0,"paddingOuter":0}},"y":{"field":"r","type":"ordinal","axis":null,"scale":{"type":"band","paddingInner":0,"paddingOuter":0}},"text":{"field":"t"}}},
       {"transform":[{"filter":"datum.c=='E'"}],"mark":{"type":"text","align":"right","dx":0},"encoding":{"x":{"field":"c","type":"nominal","axis":null,"bandPosition":1,"scale":{"type":"band","domain":["D","E","F"],"paddingInner":0,"paddingOuter":0}},"y":{"field":"r","type":"ordinal","axis":null,"scale":{"type":"band","paddingInner":0,"paddingOuter":0}},"text":{"field":"t"}}}]}
    ]}
   ]},
   {"width":303,"height":99,"view":{"stroke":"black","strokeWidth":3},"data":{"name":"rs"},"layer":[
     {"mark":"rect","encoding":{"x":{"field":"c","type":"nominal","axis":null,"scale":{"type":"band","domain":["A","B","C","D"],"paddingInner":0,"paddingOuter":0}},"y":{"field":"r","type":"ordinal","axis":null,"scale":{"type":"band","paddingInner":0,"paddingOuter":0}},"fill":{"field":"k","type":"nominal","legend":null,"scale":{"domain":["n1","n2","gr","in","bl","out","hd","wh"],"range":["#3366FF","#FF0000","#C0C0C0","#C0C0C0","#C0C0C0","#FFFFFF","#FFFFFF","#FFFFFF"]}}}},
     {"transform":[{"filter":"datum.c=='A' && datum.r==3"}],"mark":{"type":"rule","color":"black","strokeWidth":1},"encoding":{"y":{"field":"r","type":"ordinal","axis":null,"bandPosition":0,"scale":{"type":"band","paddingInner":0,"paddingOuter":0}}}},
     {"transform":[{"filter":"datum.c=='A' && (datum.r==4 || datum.r==6)"}],"mark":{"type":"rule","color":"black","strokeWidth":3},"encoding":{"y":{"field":"r","type":"ordinal","axis":null,"bandPosition":0,"scale":{"type":"band","paddingInner":0,"paddingOuter":0}}}},
     {"transform":[{"filter":"datum.r<=2"}],"mark":{"type":"text","fontWeight":"bold"},"encoding":{"x":{"field":"c","type":"nominal","axis":null,"scale":{"type":"band","domain":["A","B","C","D"],"paddingInner":0,"paddingOuter":0}},"y":{"field":"r","type":"ordinal","axis":null,"scale":{"type":"band","paddingInner":0,"paddingOuter":0}},"text":{"field":"t"}}},
     {"transform":[{"filter":"datum.r==4 || datum.r==5"}],"mark":{"type":"text","fontWeight":"bold","align":"left","dx":1},"encoding":{"x":{"field":"c","type":"nominal","axis":null,"bandPosition":0,"scale":{"type":"band","domain":["A","B","C","D"],"paddingInner":0,"paddingOuter":0}},"y":{"field":"r","type":"ordinal","axis":null,"scale":{"type":"band","paddingInner":0,"paddingOuter":0}},"text":{"field":"t"}}},
     {"transform":[{"filter":"(datum.r==3 || datum.r==6) && isValid(datum.t)"}],"mark":{"type":"text","align":"right","dx":-2},"encoding":{"x":{"field":"c","type":"nominal","axis":null,"bandPosition":1,"scale":{"type":"band","domain":["A","B","C","D"],"paddingInner":0,"paddingOuter":0}},"y":{"field":"r","type":"ordinal","axis":null,"scale":{"type":"band","paddingInner":0,"paddingOuter":0}},"text":{"field":"t"}}}]}
  ]},
  {"width":615,"height":393,"view":{"stroke":"black","strokeWidth":1},
   "title":{"text":"PA2PIM Polyphase network analysis","fontSize":15,"fontWeight":"bold","color":"black","anchor":"middle","frame":"group","offset":-44,"dx":-8,"baseline":"alphabetic"},
   "resolve":{"axis":{"x":"independent","y":"independent"}},
   "layer":[
    {"data":{"name":"gridy"},"mark":{"type":"rule","strokeWidth":1},"encoding":{
      "y":{"field":"v","type":"quantitative","scale":{"domain":[-128.83,42.04],"nice":false,"zero":false},"axis":{"orient":"left","offset":-77.7,"values":[-100,-90,-80,-70,-60,-50,-40,-30,-20,-10,0],"labelExpr":"datum.value + ''","grid":false,"domain":false,"ticks":true,"tickSize":5,"tickColor":"black","tickWidth":1,"labelPadding":3,"labelFontSize":13,"labelColor":"black","title":"Unwanted sideband suppression (dB)","titleFontSize":12.5,"titleFontWeight":"bold","titleColor":"black","titleX":-50,"titleY":212.5,"titleAngle":270,"titleBaseline":"middle","titleAlign":"center"}},
      "x":{"datum":100,"type":"quantitative","scale":{"type":"log","domain":[49.2,13478],"nice":false},"axis":null},
      "x2":{"datum":10000},
      "color":{"condition":{"test":"datum.v==-100","value":"#808080"},"value":"black"}}},
    {"data":{"name":"gridx"},"mark":{"type":"rule","strokeWidth":1,"color":"black"},"encoding":{
      "x":{"field":"f","type":"quantitative","scale":{"type":"log","domain":[49.2,13478],"nice":false},"axis":{"orient":"bottom","offset":-66.3,"values":[100,1000,10000],"labelExpr":"datum.value + ''","grid":false,"domain":false,"ticks":false,"labelPadding":10,"labelFlush":false,"labelFontSize":13,"labelColor":"black","title":"Frequency (Hz.)","titleFontSize":12.5,"titleFontWeight":"bold","titleColor":"black","titleX":328,"titleY":38,"titleBaseline":"middle","titleAlign":"center"}},
      "y":{"datum":-100,"type":"quantitative","scale":{"domain":[-128.83,42.04],"nice":false,"zero":false},"axis":null},
      "y2":{"datum":0}}},
    {"data":{"name":"curves"},"transform":[{"filter":"datum.series=='Polyf. A'"}],"mark":{"type":"line","strokeWidth":2.5},"encoding":{
      "x":{"field":"freq","type":"quantitative","scale":{"type":"log","domain":[49.2,13478],"nice":false},"axis":{"orient":"top","offset":-96.7,"values":[100,200,300,400,500,600,700,800,900,1000,2000,3000,4000,5000,6000,7000,8000,9000,10000],"grid":false,"domain":false,"ticks":true,"tickSize":5,"tickColor":"black","tickWidth":1,"labels":false,"title":null}},
      "y":{"field":"db","type":"quantitative","scale":{"domain":[-128.83,42.04],"nice":false,"zero":false},"axis":null},
      "color":{"field":"series","type":"nominal","scale":{"domain":["Polyf. A","Polyf.B","Analysis range"],"range":["#3F6FE0","#E60000","#33EE33"]},"legend":{"orient":"none","legendX":169,"legendY":51,"direction":"horizontal","title":null,"symbolType":"stroke","symbolSize":900,"symbolStrokeWidth":3,"clipHeight":14,"labelFontSize":11.5,"labelColor":"black","labelOffset":2,"columnPadding":46,"padding":5,"strokeColor":"black","fillColor":"white","encode":{"symbols":{"update":{"strokeWidth":{"signal":"datum.value == 'Analysis range' ? 5 : 3"}}}}}}}},
    {"data":{"name":"curves"},"transform":[{"filter":"datum.series=='Polyf.B'"}],"mark":{"type":"line","strokeWidth":2.5},"encoding":{
      "x":{"field":"freq","type":"quantitative","scale":{"type":"log","domain":[49.2,13478],"nice":false},"axis":null},
      "y":{"field":"db","type":"quantitative","scale":{"domain":[-128.83,42.04],"nice":false,"zero":false},"axis":null},
      "color":{"field":"series","type":"nominal","scale":{"domain":["Polyf. A","Polyf.B","Analysis range"],"range":["#3F6FE0","#E60000","#33EE33"]}}}},
    {"data":{"name":"curves"},"transform":[{"filter":"datum.series=='Analysis range'"}],"mark":{"type":"line","strokeWidth":4.5},"encoding":{
      "x":{"field":"freq","type":"quantitative","scale":{"type":"log","domain":[49.2,13478],"nice":false},"axis":null},
      "y":{"field":"db","type":"quantitative","scale":{"domain":[-128.83,42.04],"nice":false,"zero":false},"axis":null},
      "color":{"field":"series","type":"nominal","scale":{"domain":["Polyf. A","Polyf.B","Analysis range"],"range":["#3F6FE0","#E60000","#33EE33"]}}}}
   ]}
 ]},
 {"spacing":0,"vconcat":[
  {"spacing":0,"hconcat":[
   {"bounds":"flush","spacing":0,"vconcat":[
    {"width":299.5,"height":38.5,"view":{"stroke":"black","strokeWidth":3},"data":{"name":"bt"},"transform":[{"filter":"datum.g=='LV' && datum.s=='h'"}],"mark":{"type":"text","fontWeight":"bold","align":"right","dx":-3,"baseline":"bottom","dy":-3},"encoding":{"x":{"field":"c","type":"nominal","axis":null,"bandPosition":1,"scale":{"type":"band","domain":["L1","L2","L3","V"],"paddingInner":0,"paddingOuter":0}},"y":{"field":"r","type":"ordinal","axis":null,"bandPosition":1,"scale":{"type":"band","paddingInner":0,"paddingOuter":0}},"text":{"field":"t"}}},
    {"width":299.5,"height":66.5,"view":{"stroke":"black","strokeWidth":3},"data":{"name":"bt"},"transform":[{"filter":"datum.g=='LV' && datum.s=='b'"}],"layer":[
      {"mark":"rect","encoding":{"x":{"field":"c","type":"nominal","axis":null,"scale":{"type":"band","domain":["L1","L2","L3","V"],"paddingInner":0,"paddingOuter":0}},"y":{"field":"r","type":"ordinal","axis":null,"scale":{"type":"band","paddingInner":0,"paddingOuter":0}},"fill":{"field":"k","type":"nominal","legend":null,"scale":{"domain":["n1","n2","gr","in","bl","out","hd","wh"],"range":["#3366FF","#FF0000","#C0C0C0","#C0C0C0","#C0C0C0","#FFFFFF","#FFFFFF","#FFFFFF"]}}}},
      {"transform":[{"filter":"datum.c=='V' && datum.r>1"}],"mark":{"type":"rule","color":"black","strokeWidth":1},"encoding":{"y":{"field":"r","type":"ordinal","axis":null,"bandPosition":0,"scale":{"type":"band","paddingInner":0,"paddingOuter":0}}}},
      {"transform":[{"filter":"datum.c=='V' && datum.r==1"}],"mark":{"type":"rule","color":"black","strokeWidth":1},"encoding":{"x":{"field":"c","type":"nominal","axis":null,"bandPosition":0,"scale":{"type":"band","domain":["L1","L2","L3","V"],"paddingInner":0,"paddingOuter":0}}}},
      {"transform":[{"filter":"datum.c=='L2'"}],"mark":{"type":"text","fontWeight":"bold"},"encoding":{"x":{"field":"c","type":"nominal","axis":null,"scale":{"type":"band","domain":["L1","L2","L3","V"],"paddingInner":0,"paddingOuter":0}},"y":{"field":"r","type":"ordinal","axis":null,"scale":{"type":"band","paddingInner":0,"paddingOuter":0}},"text":{"field":"t"}}},
      {"transform":[{"filter":"datum.c=='V'"}],"mark":{"type":"text","align":"right","dx":-2},"encoding":{"x":{"field":"c","type":"nominal","axis":null,"bandPosition":1,"scale":{"type":"band","domain":["L1","L2","L3","V"],"paddingInner":0,"paddingOuter":0}},"y":{"field":"r","type":"ordinal","axis":null,"scale":{"type":"band","paddingInner":0,"paddingOuter":0}},"text":{"field":"t"}}}]}
   ]},
   {"bounds":"flush","spacing":0,"vconcat":[
    {"width":127,"height":38.5,"view":{"stroke":"black","strokeWidth":3},"data":{"name":"bt"},"transform":[{"filter":"datum.g=='An' && datum.s=='h'"}],"mark":{"type":"text","fontWeight":"bold","baseline":"top","dy":4,"lineBreak":"\n","lineHeight":15},"encoding":{"x":{"field":"c","type":"nominal","axis":null,"scale":{"type":"band","paddingInner":0,"paddingOuter":0}},"y":{"field":"r","type":"ordinal","axis":null,"bandPosition":0,"scale":{"type":"band","paddingInner":0,"paddingOuter":0}},"text":{"field":"t"}}},
    {"width":127,"height":66.5,"view":{"stroke":"black","strokeWidth":3},"data":{"name":"bt"},"transform":[{"filter":"datum.g=='An' && datum.s=='b'"}],"layer":[
      {"mark":"rect","encoding":{"x":{"field":"c","type":"nominal","axis":null,"scale":{"type":"band","paddingInner":0,"paddingOuter":0}},"y":{"field":"r","type":"ordinal","axis":null,"scale":{"type":"band","paddingInner":0,"paddingOuter":0}},"fill":{"field":"k","type":"nominal","legend":null,"scale":{"domain":["n1","n2","gr","in","bl","out","hd","wh"],"range":["#3366FF","#FF0000","#C0C0C0","#C0C0C0","#C0C0C0","#FFFFFF","#FFFFFF","#FFFFFF"]}}}},
      {"transform":[{"filter":"datum.r>1"}],"mark":{"type":"rule","color":"black","strokeWidth":1},"encoding":{"y":{"field":"r","type":"ordinal","axis":null,"bandPosition":0,"scale":{"type":"band","paddingInner":0,"paddingOuter":0}}}},
      {"transform":[{"filter":"datum.r==3"}],"mark":{"type":"text","fontWeight":"bold"},"encoding":{"x":{"field":"c","type":"nominal","axis":null,"scale":{"type":"band","paddingInner":0,"paddingOuter":0}},"y":{"field":"r","type":"ordinal","axis":null,"scale":{"type":"band","paddingInner":0,"paddingOuter":0}},"text":{"field":"t"}}},
      {"transform":[{"filter":"datum.r!=3"}],"mark":{"type":"text"},"encoding":{"x":{"field":"c","type":"nominal","axis":null,"scale":{"type":"band","paddingInner":0,"paddingOuter":0}},"y":{"field":"r","type":"ordinal","axis":null,"scale":{"type":"band","paddingInner":0,"paddingOuter":0}},"text":{"field":"t"}}}]}
   ]},
   {"bounds":"flush","spacing":0,"vconcat":[
    {"width":274,"height":38.5,"view":{"stroke":"black","strokeWidth":3},"data":{"name":"bt"},"transform":[{"filter":"datum.g=='P' && datum.s=='h'"}],"mark":{"type":"text","baseline":"bottom","dy":-3},"encoding":{"x":{"field":"c","type":"nominal","axis":null,"scale":{"type":"band","paddingInner":0,"paddingOuter":0}},"y":{"field":"r","type":"ordinal","axis":null,"bandPosition":1,"scale":{"type":"band","paddingInner":0,"paddingOuter":0}},"text":{"field":"t"}}},
    {"width":274,"height":66.5,"view":{"stroke":"black","strokeWidth":3},"data":{"name":"bt"},"transform":[{"filter":"datum.g=='P' && datum.s=='b'"}],"layer":[
      {"transform":[{"filter":"datum.r>1"}],"mark":{"type":"rule","color":"black","strokeWidth":1},"encoding":{"y":{"field":"r","type":"ordinal","axis":null,"bandPosition":0,"scale":{"type":"band","domain":[1,2,3,4],"paddingInner":0,"paddingOuter":0}}}},
      {"mark":{"type":"text","fontWeight":"bold","align":"right","dx":-3},"encoding":{"x":{"field":"c","type":"nominal","axis":null,"bandPosition":1,"scale":{"type":"band","paddingInner":0,"paddingOuter":0}},"y":{"field":"r","type":"ordinal","axis":null,"scale":{"type":"band","domain":[1,2,3,4],"paddingInner":0,"paddingOuter":0}},"text":{"field":"t"}}}]}
   ]},
   {"bounds":"flush","spacing":0,"vconcat":[
    {"width":125,"height":38.5,"view":{"stroke":"black","strokeWidth":3},"data":{"name":"bt"},"transform":[{"filter":"datum.g=='PA' && datum.s=='h'"}],"layer":[
      {"mark":"rect","encoding":{"x":{"field":"c","type":"nominal","axis":null,"scale":{"type":"band","paddingInner":0,"paddingOuter":0}},"y":{"field":"r","type":"ordinal","axis":null,"scale":{"type":"band","paddingInner":0,"paddingOuter":0}},"fill":{"field":"k","type":"nominal","legend":null,"scale":{"domain":["n1","n2","gr","in","bl","out","hd","wh"],"range":["#3366FF","#FF0000","#C0C0C0","#C0C0C0","#C0C0C0","#FFFFFF","#FFFFFF","#FFFFFF"]}}}},
      {"mark":{"type":"text","fontWeight":"bold","align":"left","dx":3,"baseline":"bottom","dy":-3},"encoding":{"x":{"field":"c","type":"nominal","axis":null,"bandPosition":0,"scale":{"type":"band","paddingInner":0,"paddingOuter":0}},"y":{"field":"r","type":"ordinal","axis":null,"bandPosition":1,"scale":{"type":"band","paddingInner":0,"paddingOuter":0}},"text":{"field":"t"},"color":{"value":"#FFFFFF"}}}]},
    {"width":125,"height":66.5,"view":{"stroke":"black","strokeWidth":3},"data":{"name":"bt"},"transform":[{"filter":"datum.g=='PA' && datum.s=='b'"}],"layer":[
      {"transform":[{"filter":"datum.r>1"}],"mark":{"type":"rule","color":"black","strokeWidth":1},"encoding":{"y":{"field":"r","type":"ordinal","axis":null,"bandPosition":0,"scale":{"type":"band","domain":[1,2,3,4],"paddingInner":0,"paddingOuter":0}}}},
      {"mark":{"type":"text"},"encoding":{"x":{"field":"c","type":"nominal","axis":null,"scale":{"type":"band","paddingInner":0,"paddingOuter":0}},"y":{"field":"r","type":"ordinal","axis":null,"scale":{"type":"band","domain":[1,2,3,4],"paddingInner":0,"paddingOuter":0}},"text":{"field":"t"}}}]}
   ]},
   {"bounds":"flush","spacing":0,"vconcat":[
    {"width":123.5,"height":38.5,"view":{"stroke":"black","strokeWidth":3},"data":{"name":"bt"},"transform":[{"filter":"datum.g=='PB' && datum.s=='h'"}],"layer":[
      {"mark":"rect","encoding":{"x":{"field":"c","type":"nominal","axis":null,"scale":{"type":"band","paddingInner":0,"paddingOuter":0}},"y":{"field":"r","type":"ordinal","axis":null,"scale":{"type":"band","paddingInner":0,"paddingOuter":0}},"fill":{"field":"k","type":"nominal","legend":null,"scale":{"domain":["n1","n2","gr","in","bl","out","hd","wh"],"range":["#3366FF","#FF0000","#C0C0C0","#C0C0C0","#C0C0C0","#FFFFFF","#FFFFFF","#FFFFFF"]}}}},
      {"mark":{"type":"text","baseline":"bottom","dy":-3},"encoding":{"x":{"field":"c","type":"nominal","axis":null,"scale":{"type":"band","paddingInner":0,"paddingOuter":0}},"y":{"field":"r","type":"ordinal","axis":null,"bandPosition":1,"scale":{"type":"band","paddingInner":0,"paddingOuter":0}},"text":{"field":"t"},"color":{"value":"#800000"}}}]},
    {"width":123.5,"height":66.5,"view":{"stroke":"black","strokeWidth":3},"data":{"name":"bt"},"transform":[{"filter":"datum.g=='PB' && datum.s=='b'"}],"layer":[
      {"transform":[{"filter":"datum.r>1"}],"mark":{"type":"rule","color":"black","strokeWidth":1},"encoding":{"y":{"field":"r","type":"ordinal","axis":null,"bandPosition":0,"scale":{"type":"band","domain":[1,2,3,4],"paddingInner":0,"paddingOuter":0}}}},
      {"mark":{"type":"text"},"encoding":{"x":{"field":"c","type":"nominal","axis":null,"scale":{"type":"band","paddingInner":0,"paddingOuter":0}},"y":{"field":"r","type":"ordinal","axis":null,"scale":{"type":"band","domain":[1,2,3,4],"paddingInner":0,"paddingOuter":0}},"text":{"field":"t"}}}]}
   ]}
  ]},
  {"bounds":"flush","spacing":0,"hconcat":[
   {"width":224.6,"height":17,"data":{"values":[{}]},"mark":{"type":"text"},"encoding":{"text":{"value":""}}},
   {"width":74.9,"height":17,"data":{"name":"bt"},"transform":[{"filter":"datum.s=='x'"}],"layer":[
     {"mark":"rect","encoding":{"x":{"field":"c","type":"nominal","axis":null,"scale":{"type":"band","paddingInner":0,"paddingOuter":0}},"y":{"field":"r","type":"ordinal","axis":null,"scale":{"type":"band","paddingInner":0,"paddingOuter":0}},"fill":{"field":"k","type":"nominal","legend":null,"scale":{"domain":["n1","n2","gr","in","bl","out","hd","wh"],"range":["#3366FF","#FF0000","#C0C0C0","#C0C0C0","#C0C0C0","#FFFFFF","#FFFFFF","#FFFFFF"]}}}},
     {"mark":{"type":"text","align":"right","dx":-2},"encoding":{"x":{"field":"c","type":"nominal","axis":null,"bandPosition":1,"scale":{"type":"band","paddingInner":0,"paddingOuter":0}},"y":{"field":"r","type":"ordinal","axis":null,"scale":{"type":"band","paddingInner":0,"paddingOuter":0}},"text":{"field":"t"}}}]}
  ]}
 ]}
]}
]
}
